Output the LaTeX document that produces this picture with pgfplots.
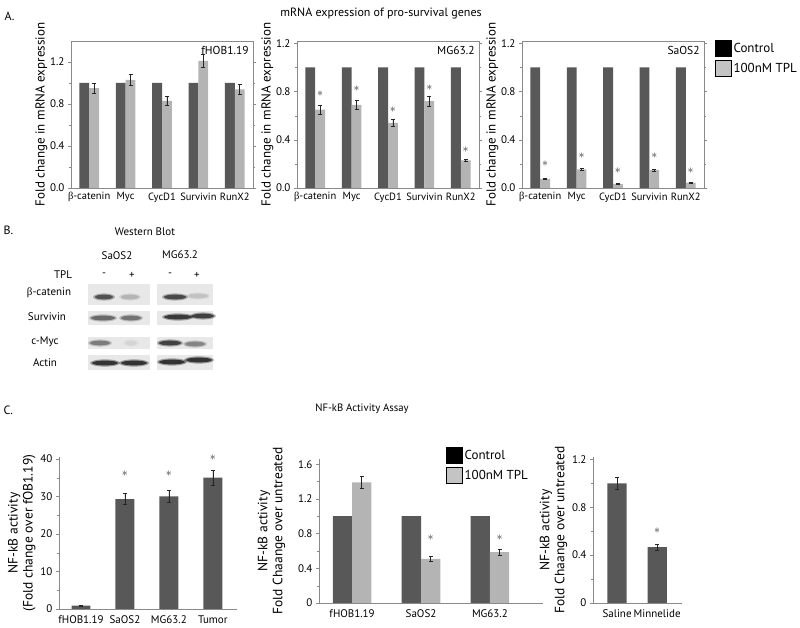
\documentclass[border=0pt]{standalone}
\usepackage{pgfplots}
\pgfplotsset{compat=1.18}
\usepackage{fontspec}
\setmainfont{PT Sans}
\newfontfamily\grk{Liberation Serif}
\definecolor{ctrl}{HTML}{585858}
\definecolor{tpl}{HTML}{B4B4B4}
\definecolor{leggray}{HTML}{C4C4C4}
\definecolor{axgray}{HTML}{8A8A8A}
\newcommand{\fs}[1]{\fontsize{#1}{#1}\selectfont}
\pgfplotsset{
  common/.style={scale only axis, clip=false, ymin=0,
    /pgf/number format/assume math mode=true,
    tick label style={font=\fs{11}},
    tick align=outside, major tick length=3pt, minor tick length=2pt,
    axis line style={draw=axgray}, ytick style={draw=axgray},
    error bars/error bar style={line width=0.5pt, black!85},
    error bars/error mark options={rotate=90, line width=0.5pt, mark size=2pt, black!85}},
  Abase/.style={common, width=182pt, height=147pt, xmin=-0.5, xmax=4.5,
    xtick={0,1,2,3,4}, xticklabels={{{\grk β}-catenin},Myc,CycD1,Survivin,RunX2},
    xtick style={draw=none}, xticklabel style={yshift=2pt, font=\fs{10.5}},
    ytick={0,0.4,0.8,1.2}, minor ytick={0.2,0.6,1.0},
    y tick label style={/pgf/number format/.cd, fixed, fixed zerofill, precision=1},
    ylabel={Fold change in mRNA expression}, label style={font=\fs{13}},
    ylabel style={yshift=-4pt}},
  Cbase/.style={common, axis lines*=left, axis line style={-},
    tick label style={font=\fs{11}},
    label style={font=\fontsize{13.5}{15}\selectfont},
    xtick style={draw=none}, ylabel style={align=center, yshift=-2pt}},
  star/.style={draw=none, nodes near coords={$\ast$},
    every node near coord/.append style={anchor=center, inner sep=0pt, font=\fs{12}, black!80}},
  ebar/.style={error bars/.cd, y dir=both, y explicit},
  sqlegend/.style={legend image code/.code={\fill[##1] (0pt,-7.5pt) rectangle (16pt,8.5pt);},
    legend style={draw=none, fill=none, font=\fs{13}, row sep=4pt, inner sep=0pt,
      cells={anchor=west}}}
}
\begin{document}
\begin{tikzpicture}[x=1pt,y=1pt]
\path[use as bounding box] (0,0) rectangle (800,628);

% ---------------- Panel A ----------------
\node[anchor=west, font=\fs{12}] at (1,612) {A.};
\node[font=\fs{12}] at (381,614) {mRNA expression of pro-survival genes};

\begin{axis}[Abase, at={(71pt,440pt)}, anchor=south west, ymax=1.4]
\addplot[ybar, bar width=0.27, fill=ctrl, draw=none]
  coordinates {(-0.135,1)(0.865,1)(1.865,1)(2.865,1)(3.865,1)};
\addplot[ybar, bar width=0.27, fill=tpl, draw=none, ebar]
  coordinates {(0.135,0.95)+-(0,0.05) (1.135,1.03)+-(0,0.05) (2.135,0.83)+-(0,0.04) (3.135,1.21)+-(0,0.06) (4.135,0.94)+-(0,0.05)};
\node[anchor=north east, font=\fs{11.5}] at (rel axis cs:0.995,0.99) {fHOB1.19};
\end{axis}

\begin{axis}[Abase, at={(297pt,440pt)}, anchor=south west, ymax=1.22]
\addplot[ybar, bar width=0.27, fill=ctrl, draw=none]
  coordinates {(-0.135,1)(0.865,1)(1.865,1)(2.865,1)(3.865,1)};
\addplot[ybar, bar width=0.27, fill=tpl, draw=none, ebar]
  coordinates {(0.135,0.65)+-(0,0.04) (1.135,0.69)+-(0,0.04) (2.135,0.54)+-(0,0.03) (3.135,0.72)+-(0,0.04) (4.135,0.23)+-(0,0.012)};
\addplot[star] coordinates {(0.135,0.78)(1.135,0.82)(2.135,0.65)(3.135,0.83)(4.135,0.32)};
\node[anchor=north east, font=\fs{11.5}] at (rel axis cs:0.995,0.99) {MG63.2};
\end{axis}

\begin{axis}[Abase, at={(522pt,440pt)}, anchor=south west, ymax=1.22, sqlegend,
  legend style={at={(1.06,1.01)}, anchor=north west}]
\addlegendimage{fill=black}
\addlegendimage{fill=leggray}
\addplot[ybar, bar width=0.27, fill=ctrl, draw=none]
  coordinates {(-0.135,1)(0.865,1)(1.865,1)(2.865,1)(3.865,1)};
\addplot[ybar, bar width=0.27, fill=tpl, draw=none, ebar]
  coordinates {(0.135,0.075)+-(0,0.005) (1.135,0.155)+-(0,0.008) (2.135,0.035)+-(0,0.004) (3.135,0.15)+-(0,0.007) (4.135,0.045)+-(0,0.004)};
\addplot[star] coordinates {(0.135,0.20)(1.135,0.27)(2.135,0.14)(3.135,0.27)(4.135,0.14)};
\node[anchor=north east, font=\fs{11.5}] at (rel axis cs:0.995,0.99) {SaOS2};
\legend{Control,100nM TPL}
\end{axis}

% ---------------- Panel B ----------------
\node[anchor=west, font=\fs{12}] at (0,398) {B.};
\node[font=\fs{11}] at (145,396) {Western Blot};
\node[font=\fs{11}] at (117,372) {SaOS2};
\node[font=\fs{11}] at (180,373) {MG63.2};
\node[font=\fs{11}] at (63,353) {TPL};
\foreach \x/\s in {104/-,132/+,170/-,197/+} \node[font=\fs{11}] at (\x,353) {\s};
\node[font=\fs{11}] at (49,335) {{\grk β}-catenin};
\node[font=\fs{11}] at (47,311) {Survivin};
\node[font=\fs{11}] at (45,286) {c-Myc};
\node[font=\fs{11}] at (45,265) {Actin};
% blot backgrounds
\foreach \ya/\yb in {323/344, 303/317, 279/291, 258/273} {
  \fill[black!9] (88,\ya) rectangle (150,\yb);
  \fill[black!9] (157,\ya) rectangle (213,\yb);
}
% bands: x, y, half-width, opacity
\foreach \bx/\by/\bw/\bo in {
  104/331/9/0.75, 130/331/9/0.22, 175/331/11/0.8, 198/332/10/0.16,
  103/310/12/0.6, 131/310/10/0.55, 178/311/14/0.9, 203/312/11/0.85,
  100/285/10/0.5, 131/285/6/0.08, 170/285/11/0.85, 195/284/10/0.45,
  105/265/13/0.95, 134/265/13/0.95, 172/266/13/0.95, 199/268/13/0.95} {
  \fill[black, opacity=\bo*0.35] (\bx,\by) ellipse [x radius={\bw+2}, y radius=3.6];
  \fill[black, opacity=\bo*0.7] (\bx,\by) ellipse [x radius={\bw}, y radius=2.4];
}

% ---------------- Panel C ----------------
\node[anchor=west, font=\fs{12}] at (0,218) {C.};
\node[font=\fs{10.7}] at (362,219) {NF-kB Activity Assay};

\begin{axis}[Cbase, at={(59pt,19pt)}, anchor=south west, width=178pt, height=152pt,
  xmin=-0.5, xmax=3.55, ymax=40.5, xtick={0,1,2,3},
  xticklabels={fHOB1.19,SaOS2,MG63.2,Tumor},
  ytick={0,10,20,30,40}, minor ytick={5,15,25,35},
  ylabel={NF-kB activity\\(Fold change over fOB1.19)}]
\addplot[ybar, bar width=0.43, fill=ctrl, draw=none, ebar]
  coordinates {(0,0.9)+-(0,0.2) (1,29.3)+-(0,1.5) (2,30.0)+-(0,1.6) (3,35.0)+-(0,2.0)};
\addplot[star] coordinates {(1,36.1)(2,36.1)(3,40.2)};
\end{axis}

\begin{axis}[Cbase, at={(319pt,25pt)}, anchor=south west, width=224pt, height=144pt,
  xmin=-0.48, xmax=2.77, ymax=1.66, xtick={0,1,2},
  xticklabels={fHOB1.19,SaOS2,MG63.2},
  ytick={0,0.4,0.8,1.2,1.6}, minor ytick={0.2,0.6,1.0,1.4},
  ylabel={NF-kB activity\\Fold Chaange over untreated}, ylabel style={yshift=8pt},
  sqlegend, legend style={at={(0.567,1.085)}, anchor=north west}]
\addlegendimage{fill=black}
\addlegendimage{fill=leggray}
\addplot[ybar, bar width=0.28, fill=ctrl, draw=none]
  coordinates {(-0.14,1)(0.86,1)(1.86,1)};
\addplot[ybar, bar width=0.28, fill=tpl, draw=none, ebar]
  coordinates {(0.14,1.39)+-(0,0.07) (1.14,0.51)+-(0,0.03) (2.14,0.585)+-(0,0.03)};
\addplot[star] coordinates {(1.14,0.75)(2.14,0.75)};
\legend{Control,100nM TPL}
\end{axis}

\begin{axis}[Cbase, at={(593pt,25pt)}, anchor=south west, width=89pt, height=146pt,
  xmin=-0.6, xmax=1.62, ymax=1.22, xtick={0,1},
  xticklabels={Saline,Minnelide},
  ytick={0,0.4,0.8,1.2}, minor ytick={0.2,0.6,1.0},
  ylabel={NF-kB activity\\Fold Chaange over untreated}]
\addplot[ybar, bar width=0.48, fill=ctrl, draw=none, ebar]
  coordinates {(0,1.0)+-(0,0.05) (1,0.467)+-(0,0.025)};
\addplot[star] coordinates {(1,0.6)};
\end{axis}
\end{tikzpicture}
\end{document}
